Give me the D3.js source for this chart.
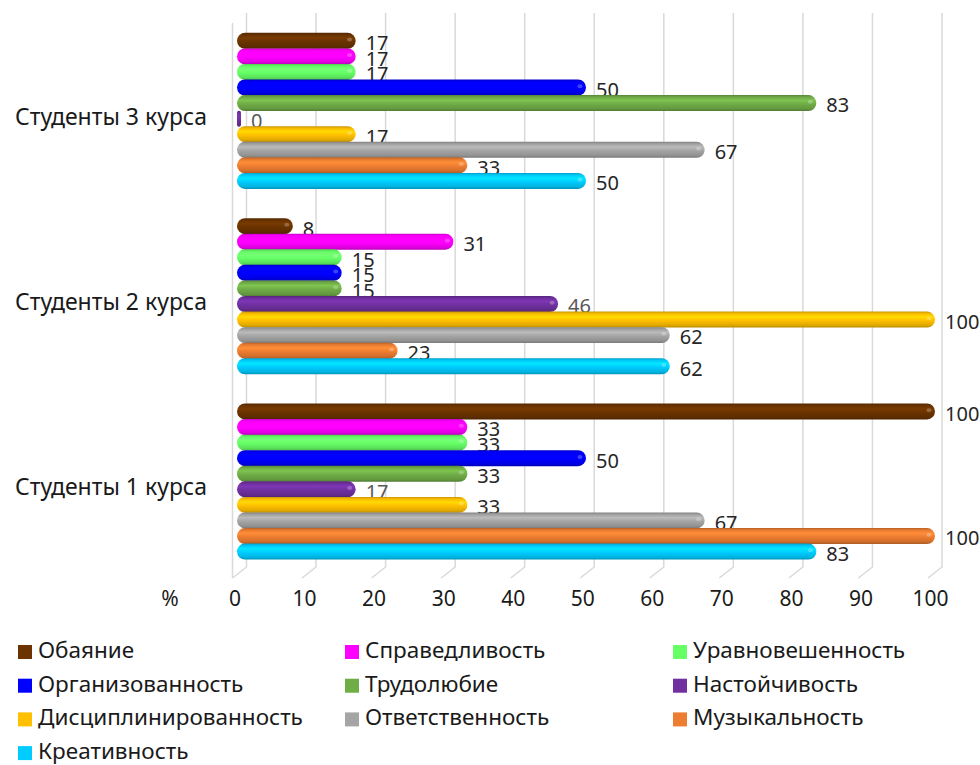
<!DOCTYPE html>
<html>
<head>
<meta charset="utf-8">
<script src="https://cdn.jsdelivr.net/npm/d3@7"></script>
<style>
  body { margin: 0; background: #fff; }
  svg { display: block; }
  text { font-family: "Noto Sans", sans-serif; }
</style>
</head>
<body>
<div id="chart"></div>
<script>
// categories (top to bottom as drawn)
const groups = ["Студенты 3 курса", "Студенты 2 курса", "Студенты 1 курса"];
// series, in the order they are stacked inside each group (top first)
const series = ["Обаяние", "Справедливость", "Уравновешенность", "Организованность", "Трудолюбие",
                "Настойчивость", "Дисциплинированность", "Ответственность", "Музыкальность", "Креативность"];
const colors = ["#6a3300", "#ff00ff", "#66ff66", "#0000ff", "#70ad47",
                "#7030a0", "#ffc000", "#a5a5a5", "#ed7d31", "#00ccff"];
// values per group, same order as series
const course3 = [17, 17, 17, 50, 83, 0, 17, 67, 33, 50];
const course2 = [8, 31, 15, 15, 15, 46, 100, 62, 23, 62];
const course1 = [100, 33, 33, 50, 33, 17, 33, 67, 100, 83];
const xTicks = [0, 10, 20, 30, 40, 50, 60, 70, 80, 90, 100];
const axisUnit = "%";

const values = { [groups[0]]: course3, [groups[1]]: course2, [groups[2]]: course1 };

const width = 980, height = 765;
const svg = d3.select("#chart").append("svg")
    .attr("width", width)
    .attr("height", height);

// bars are drawn in the "front" plane, gridlines on the back wall
const x = d3.scaleLinear().domain([0, 100]).range([237, 935]);
const xWall = d3.scaleLinear().domain([0, 100]).range([246.5, 942]);
const depth = { dx: -14, dy: 11 };
const wallTop = 13, wallBottom = 567;

const y = d3.scaleBand().domain(groups).range([18, 574])
    .paddingInner(0.16).paddingOuter(0.08);
const ys = d3.scaleBand().domain(series).range([0, y.bandwidth()]);
const barH = ys.bandwidth() + 0.4;

// gradients for the cylinder look
const defs = svg.append("defs");
colors.forEach((c, i) => {
    const base = d3.color(c);
    const g = defs.append("linearGradient")
        .attr("id", "grad" + i)
        .attr("x1", 0).attr("y1", 0).attr("x2", 0).attr("y2", 1);
    const stops = [
        [0, base.darker(0.7)],
        [0.12, base.darker(0.1)],
        [0.32, base.brighter(0.35)],
        [0.55, base],
        [0.85, base.darker(0.35)],
        [1, base.darker(0.9)]
    ];
    stops.forEach(s => g.append("stop")
        .attr("offset", s[0])
        .attr("stop-color", s[1].formatHex()));
});

// gridlines with little floor diagonals
const grid = svg.append("g");
grid.selectAll("path.tick").data(xTicks)
    .join("path")
    .attr("fill", "none")
    .attr("stroke", "#d9d9d9")
    .attr("stroke-width", 1.5)
    .attr("d", d => `M${xWall(d)},${wallTop}V${wallBottom}l${depth.dx},${depth.dy}`);
grid.append("path")
    .attr("fill", "none")
    .attr("stroke", "#d9d9d9")
    .attr("stroke-width", 1.5)
    .attr("d", `M${xWall(0) + depth.dx},${wallTop + 10}V${wallBottom + depth.dy}`);

// x axis labels (front edge of the floor)
const xFront = d3.scaleLinear().domain([0, 100])
    .range([xWall(0) + depth.dx + 2, xWall(100) + depth.dx + 2]);
const xAxis = svg.append("g")
    .attr("transform", `translate(0,${wallBottom + depth.dy + 13})`)
    .call(d3.axisBottom(xFront).tickValues(xTicks).tickSize(0).tickPadding(0));
xAxis.select(".domain").remove();
xAxis.selectAll("text")
    .attr("font-size", 21)
    .attr("fill", "#1a1a1a")
    .style("font-family", "'Noto Sans', sans-serif");
svg.append("text")
    .attr("x", 170)
    .attr("y", wallBottom + depth.dy + 13)
    .attr("dy", "0.71em")
    .attr("text-anchor", "middle")
    .attr("font-size", 21)
    .attr("fill", "#1a1a1a")
    .text(axisUnit);

// category labels
svg.append("g").selectAll("text").data(groups)
    .join("text")
    .attr("x", 207)
    .attr("y", d => y(d) + y.bandwidth() / 2 + 8)
    .attr("dominant-baseline", "middle")
    .attr("text-anchor", "end")
    .attr("font-size", 23)
    .attr("fill", "#1a1a1a")
    .text(d => d);

// bars + value labels, painted in stacking order so lower bars cover the labels above
const bars = svg.append("g");
groups.forEach(grp => {
    series.forEach((s, i) => {
        const v = values[grp][i];
        const top = y(grp) + ys(s);
        const w = Math.max(x(v) - x(0), 4);
        bars.append("rect")
            .attr("x", x(0))
            .attr("y", top)
            .attr("width", w)
            .attr("height", barH)
            .attr("rx", Math.min(barH / 2, w / 2))
            .attr("fill", `url(#grad${i})`);
        if (w > 12) {
            bars.append("ellipse")
                .attr("cx", x(0) + w - 6)
                .attr("cy", top + barH * 0.42)
                .attr("rx", 2.5).attr("ry", 2)
                .attr("fill", "#fff")
                .attr("opacity", 0.25);
        }
        bars.append("text")
            .attr("x", x(0) + w + 10)
            .attr("y", top + barH / 2 + 4)
            .attr("dominant-baseline", "middle")
            .attr("font-size", 20)
            .attr("fill", s === "Настойчивость" ? "#595959" : "#262626")
            .text(v);
    });
});

// legend
const legCols = [18, 345, 673];
const legRow0 = 652, legStep = 33.7;
const legend = svg.append("g").selectAll("g").data(series)
    .join("g")
    .attr("transform", (d, i) => `translate(${legCols[i % 3]},${legRow0 + Math.floor(i / 3) * legStep})`);
legend.append("rect")
    .attr("x", 0).attr("y", -7)
    .attr("width", 14).attr("height", 14)
    .attr("fill", (d, i) => colors[i]);
legend.append("text")
    .attr("x", 20)
    .attr("y", 0)
    .attr("dominant-baseline", "middle")
    .attr("font-size", 22.5)
    .attr("fill", "#1a1a1a")
    .text(d => d);
</script>
</body>
</html>
